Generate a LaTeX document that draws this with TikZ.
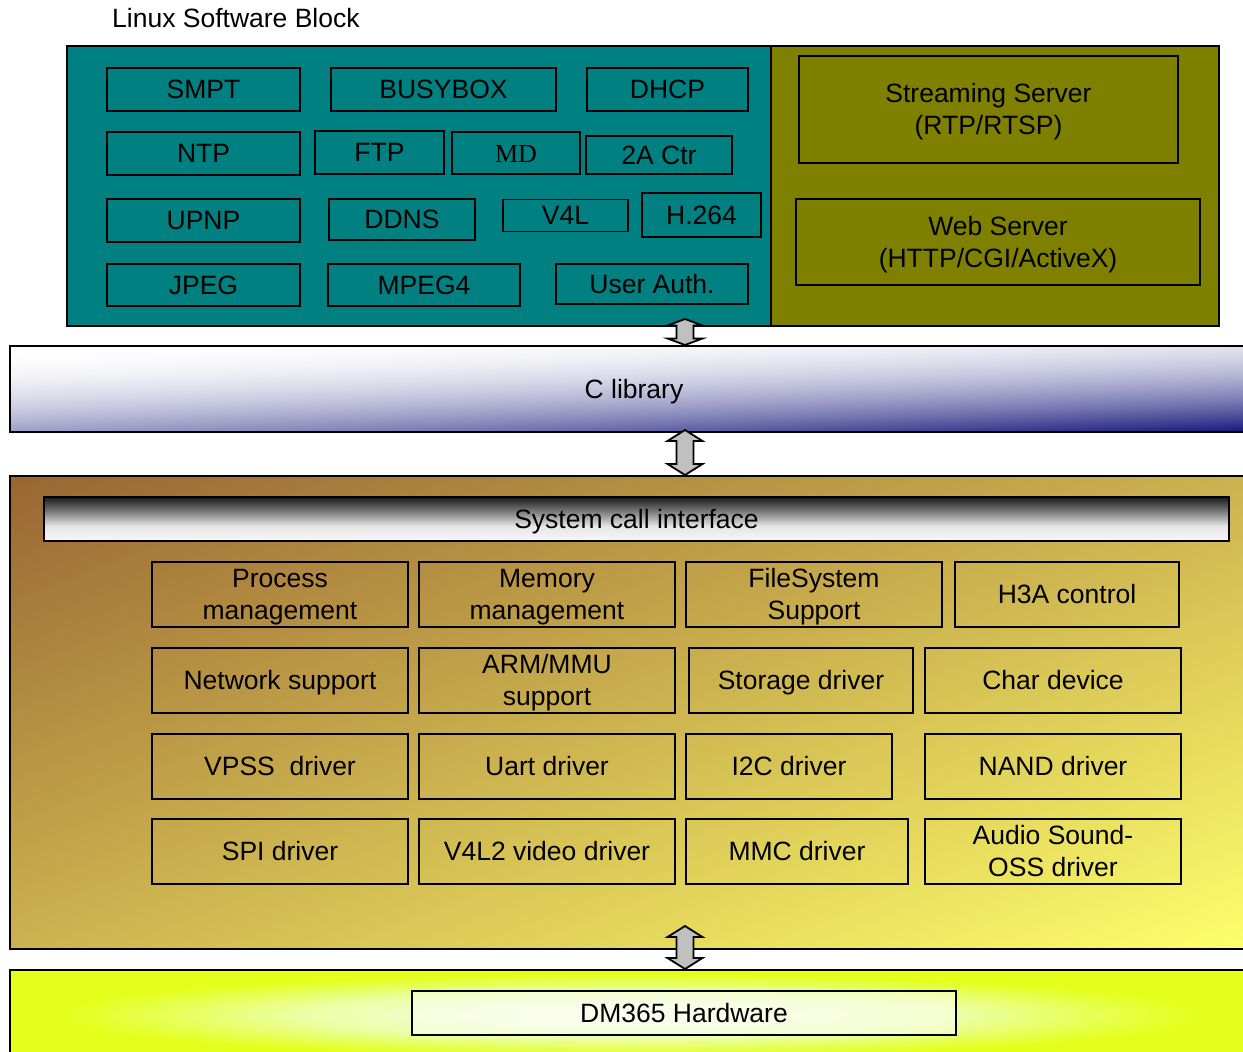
\documentclass[tikz,border=0pt]{standalone}
\usepackage{fontspec}
\setmainfont{Liberation Sans}
\newfontfamily\timesfont{Liberation Serif}
\usetikzlibrary{calc}

\definecolor{appteal}{HTML}{008080}
\definecolor{appolive}{HTML}{808000}
\definecolor{hwyellow}{HTML}{E4FF1C}
\definecolor{hwdeep}{HTML}{E6FF50}
\definecolor{hwmid}{HTML}{ECFEA8}
\definecolor{hwpale}{HTML}{F2FDC8}
\definecolor{hwcore}{HTML}{F8FDE8}
\definecolor{arrowgray}{HTML}{C0C0C0}

% C library band: white at the top-left corner, deep navy at the bottom-right
\pgfdeclarefunctionalshading{clibshade}{\pgfpointorigin}{\pgfpoint{100bp}{100bp}}{}{
  75 exch sub 50 div 0.65 mul
  exch 25 sub 50 div 0.35 mul
  add
  dup 0 lt {pop 0} if
  dup 1 gt {pop 1} if
  dup mul
  dup 0.922 mul 1 exch sub
  exch dup 0.922 mul 1 exch sub
  exch 0.522 mul 1 exch sub
}
% kernel band: brown at the top-left corner, light yellow at the bottom-right
\pgfdeclarefunctionalshading{kernelshade}{\pgfpointorigin}{\pgfpoint{100bp}{100bp}}{}{
  75 exch sub 50 div 0.5 mul
  exch 25 sub 50 div 0.5 mul
  add
  dup 0 lt {pop 0} if
  dup 1 gt {pop 1} if
  dup 0.4 mul 0.6 add
  exch dup 0.6 mul 0.4 add
  exch 0.22 mul 0.2 add
}
% system call bar: dark top fading to white
\pgfdeclareverticalshading{sysshade}{100bp}{
  color(0bp)=(white); color(25bp)=(white!97!black); color(42bp)=(white!90!black);
  color(58bp)=(black!50); color(75bp)=(black!90); color(100bp)=(black!90)}
% hardware band: pale centre, yellow-green rim
\pgfdeclareradialshading{hwshade}{\pgfpoint{0bp}{0bp}}{
  color(0bp)=(hwcore); color(8bp)=(hwpale); color(13bp)=(hwmid);
  color(19bp)=(hwdeep); color(23bp)=(hwyellow); color(50bp)=(hwyellow)}

% centred block of one or more lines, lowered so the capitals sit mid-box
\newcommand\lines[1]{\raisebox{0pt}[\dimexpr\height+3pt\relax][\dimexpr\depth-3pt\relax]{%
  \begin{tabular}{@{}c@{}}#1\end{tabular}}}
% box given by its corners: [style]{name}{x1}{y1}{x2}{y2}{text}
\newcommand\blk[7][appbox]{%
  \node[#1, minimum width={(#5)-(#3)}, minimum height={(#6)-(#4)}]
    (#2) at ({((#3)+(#5))/2},{((#4)+(#6))/2}) {\lines{#7}};}
% double-headed block arrow between two points: {top}{bottom}{head length}
\newcommand\layerlink[3]{%
  \draw[linkarrow] let \p1=(#1), \p2=(#2) in
    (\x1,\y1) -- (\x1+17.5pt,\y1-#3pt) -- (\x1+8.5pt,\y1-#3pt)
    -- (\x1+8.5pt,\y2+#3pt) -- (\x1+17.5pt,\y2+#3pt) -- (\x1,\y2)
    -- (\x1-17.5pt,\y2+#3pt) -- (\x1-8.5pt,\y2+#3pt)
    -- (\x1-8.5pt,\y1-#3pt) -- (\x1-17.5pt,\y1-#3pt) -- cycle;}

\begin{document}
\begin{tikzpicture}[x=1pt,y=-1pt,
  lbl/.style={font=\fontsize{26.5}{32}\selectfont},
  layer/.style={lbl, draw=black, line width=2pt, inner sep=0pt},
  appbox/.style={lbl, draw=black, line width=1.6pt, inner sep=0pt},
  kbox/.style={lbl, draw=black, line width=2pt, inner sep=0pt},
  linkarrow/.style={draw=black, fill=arrowgray, line width=1.8pt, line join=miter, miter limit=10},
]
\useasboundingbox (0,0) rectangle (1243,1052);
\clip (0,0) rectangle (1243,1052);
\fill[white] (0,0) rectangle (1243,1052);

\node[lbl, anchor=west, inner sep=0pt] (title) at (112,18) {Linux Software Block};

% application layer
\blk[layer, fill=appteal]{apps}{67}{46}{771}{326}{}
\blk[layer, fill=appolive]{servers}{771}{46}{1219}{326}{}

\blk{smpt}{107}{68}{300}{111}{SMPT}
\blk{busybox}{331}{68}{556}{111}{BUSYBOX}
\blk{dhcp}{587}{68}{748}{111}{DHCP}
\blk{ntp}{107}{132}{300}{175}{NTP}
\blk{ftp}{315}{131}{444}{174}{FTP}
\blk[appbox, font=\fontsize{26}{32}\timesfont]{md}{452}{132}{580}{174}{MD}
\blk{actr}{586}{136}{732}{174}{2A Ctr}
\blk{upnp}{107}{199}{300}{242}{UPNP}
\blk{ddns}{329}{199}{475}{240}{DDNS}
\blk{vfl}{503}{200}{628}{231}{V4L}
\blk{h264}{642}{193}{761}{237}{H.264}
\blk{jpeg}{107}{264}{300}{306}{JPEG}
\blk{mpeg}{328}{264}{520}{306}{MPEG4}
\blk{auth}{556}{264}{748}{304}{User Auth.}

\blk{stream}{799}{56}{1178}{163}{Streaming Server\\(RTP/RTSP)}
\blk{web}{796}{199}{1200}{285}{Web Server\\(HTTP/CGI/ActiveX)}

% C library
\blk[layer, shade, shading=clibshade]{clib}{10}{346}{1258}{432}{C library}

% kernel
\blk[layer, shade, shading=kernelshade]{kernel}{10}{476}{1250}{949}{}
\blk[layer, shade, shading=sysshade]{syscall}{44}{497}{1229}{541}{System call interface}

\blk[kbox]{proc}{152}{562}{408}{627}{Process\\management}
\blk[kbox]{mem}{419}{562}{675}{627}{Memory\\management}
\blk[kbox]{fs}{686}{562}{942}{627}{FileSystem\\Support}
\blk[kbox]{hta}{955}{562}{1179}{627}{H3A control}

\blk[kbox]{net}{152}{648}{408}{713}{Network support}
\blk[kbox]{arm}{419}{648}{675}{713}{ARM/MMU\\support}
\blk[kbox]{stor}{689}{648}{913}{713}{Storage driver}
\blk[kbox]{chr}{925}{648}{1181}{713}{Char device}

\blk[kbox]{vpss}{152}{734}{408}{799}{VPSS\ \ driver}
\blk[kbox]{uart}{419}{734}{675}{799}{Uart driver}
\blk[kbox]{itc}{686}{734}{892}{799}{I2C driver}
\blk[kbox]{nand}{925}{734}{1181}{799}{NAND driver}

\blk[kbox]{spi}{152}{819}{408}{884}{SPI driver}
\blk[kbox]{vfl2}{419}{819}{675}{884}{V4L2 video driver}
\blk[kbox]{mmc}{686}{819}{908}{884}{MMC driver}
\blk[kbox]{audio}{925}{819}{1181}{884}{Audio Sound-\\OSS driver}

% hardware
\blk[layer, shade, shading=hwshade]{hw}{10}{970}{1250}{1060}{}
\blk[kbox, fill=white, fill opacity=0.45, text opacity=1]{dm}{412}{991}{956}{1035}{DM365 Hardware}

% links between the layers
\coordinate (a1t) at (685,319);
\coordinate (a2t) at (685,430);
\coordinate (a3t) at (685,926);
\layerlink{a1t}{a1t |- clib.north}{6.5}
\layerlink{a2t}{a2t |- kernel.north}{11}
\layerlink{a3t}{a3t |- hw.north}{11}
\end{tikzpicture}
\end{document}
